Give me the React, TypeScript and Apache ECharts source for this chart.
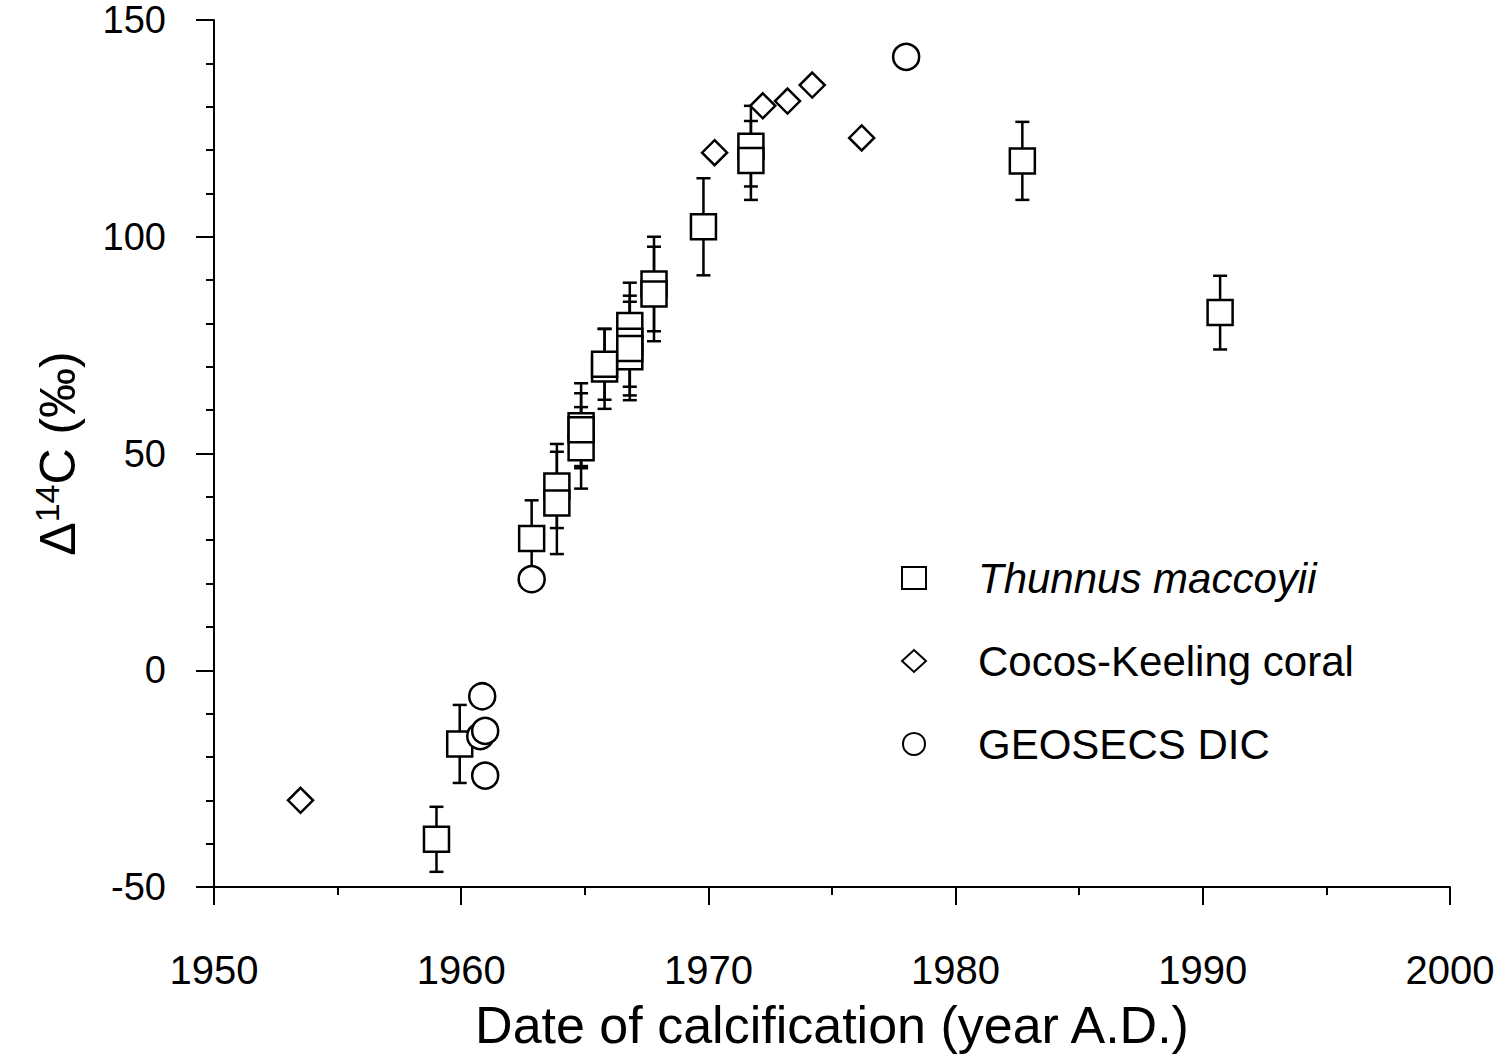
import React, { useEffect, useRef } from "react";
import * as echarts from "echarts";

// Thunnus maccoyii otolith cores: year, mean Δ14C, ± error (drawing order matters for overlaps)
const thunnusYear = [
  1959.0, 1959.94, 1962.85, 1963.87, 1963.87, 1964.85, 1964.85, 1964.85,
  1965.8, 1965.8, 1966.82, 1966.82, 1966.82, 1966.82, 1967.8, 1967.8,
  1969.8, 1971.72, 1971.72, 1982.7, 1990.7,
];
const thunnusValue = [
  -39, -17, 30.4, 42.5, 38.6, 51.3, 56.4, 55.5,
  69.5, 70.6, 79.5, 72.3, 75.9, 74.2, 89.1, 86.8,
  102.3, 120.9, 117.6, 117.5, 82.5,
];
const thunnusErr = [
  7.5, 9, 8.8, 9.7, 11.8, 9.4, 9.8, 8.4,
  9.2, 8.2, 9.9, 10, 10.5, 10.8, 10.9, 10.9,
  11.2, 9.3, 9.1, 9, 8.5,
];

// Cocos-Keeling coral
const coralYear = [1953.5, 1970.25, 1972.2, 1973.2, 1974.2, 1976.2];
const coralValue = [-30, 119.4, 130.2, 131.3, 135.0, 122.8];

// GEOSECS DIC
const geosecsYear = [1960.85, 1960.77, 1960.97, 1960.97, 1962.85, 1978.0];
const geosecsValue = [-6, -15.2, -14, -24.3, 21, 141.5];

const seriesNames = ["Thunnus maccoyii", "Cocos-Keeling coral", "GEOSECS DIC"];

const FONT = "'Liberation Sans', Arial, Helvetica, sans-serif";

export default function App() {
  const ref = useRef<HTMLDivElement>(null);

  useEffect(() => {
    if (!ref.current) return;
    const chart = echarts.init(ref.current, null, { renderer: "svg" });

    const thunnusData = thunnusYear.map((x, i) => [x, thunnusValue[i]]);
    const errData = thunnusYear.map((x, i) => [
      x,
      thunnusValue[i] - thunnusErr[i],
      thunnusValue[i] + thunnusErr[i],
    ]);
    const coralData = coralYear.map((x, i) => [x, coralValue[i]]);
    const geosecsData = geosecsYear.map((x, i) => [x, geosecsValue[i]]);

    const symStyle = { color: "#fff", borderColor: "#000", borderWidth: 2.5, opacity: 1 };

    chart.setOption({
      animation: false,
      backgroundColor: "#fff",
      grid: { left: 214, right: 49, top: 20, bottom: 171 },
      xAxis: {
        type: "value",
        min: 1950,
        max: 2000,
        interval: 10,
        axisLine: { onZero: false, lineStyle: { color: "#000", width: 2 } },
        axisTick: { length: 18, lineStyle: { color: "#000", width: 2 } },
        minorTick: { show: true, splitNumber: 2, length: 8, lineStyle: { color: "#000", width: 2 } },
        splitLine: { show: false },
        axisLabel: {
          color: "#000",
          fontSize: 40,
          fontFamily: FONT,
          margin: 63,
          formatter: (v: number) => String(v),
        },
        name: "Date of calcification (year A.D.)",
        nameLocation: "middle",
        nameGap: 112,
        nameTextStyle: { color: "#000", fontSize: 52, fontFamily: FONT },
      },
      yAxis: {
        type: "value",
        min: -50,
        max: 150,
        interval: 50,
        axisLine: { onZero: false, lineStyle: { color: "#000", width: 2 } },
        axisTick: { length: 18, lineStyle: { color: "#000", width: 2 } },
        minorTick: { show: true, splitNumber: 5, length: 8, lineStyle: { color: "#000", width: 2 } },
        splitLine: { show: false },
        axisLabel: { color: "#000", fontSize: 38, fontFamily: FONT, margin: 48 },
        name: "{d|Δ}{s|14}{d|C (‰)}",
        nameLocation: "middle",
        nameRotate: 90,
        nameGap: 128,
        nameTextStyle: {
          color: "#000",
          fontFamily: FONT,
          rich: {
            d: { fontSize: 50, fontFamily: FONT, color: "#000", lineHeight: 56 },
            s: { fontSize: 34, fontFamily: FONT, color: "#000", lineHeight: 28, verticalAlign: "top" },
          },
        },
      },
      legend: {
        data: seriesNames,
        orient: "vertical",
        left: 896,
        top: 552,
        itemGap: 41,
        itemWidth: 24,
        itemHeight: 22,
        selectedMode: false,
        itemStyle: { color: "#fff", borderColor: "#000", borderWidth: 2 },
        formatter: (n: string) => (n === "Thunnus maccoyii" ? `{i|${n}}` : `{n|${n}}`),
        textStyle: {
          color: "#000",
          fontFamily: FONT,
          fontSize: 42,
          rich: {
            i: { fontStyle: "italic", fontSize: 42, fontFamily: FONT, color: "#000", lineHeight: 46, padding: [0, 0, 0, 47] },
            n: { fontSize: 42, fontFamily: FONT, color: "#000", lineHeight: 46, padding: [0, 0, 0, 47] },
          },
        },
      },
      series: [
        {
          type: "custom",
          name: "error",
          z: 2,
          silent: true,
          encode: { x: 0, y: [1, 2] },
          data: errData,
          renderItem: (_params: any, api: any) => {
            const x = api.value(0);
            const lo = api.value(1);
            const hi = api.value(2);
            const pt = api.coord([x, hi]);
            const pb = api.coord([x, lo]);
            const hw = 7;
            const style = { stroke: "#000", lineWidth: 2.5, fill: null };
            return {
              type: "group",
              children: [
                { type: "line", shape: { x1: pt[0], y1: pt[1], x2: pb[0], y2: pb[1] }, style },
                { type: "line", shape: { x1: pt[0] - hw, y1: pt[1], x2: pt[0] + hw, y2: pt[1] }, style },
                { type: "line", shape: { x1: pb[0] - hw, y1: pb[1], x2: pb[0] + hw, y2: pb[1] }, style },
              ],
            };
          },
        },
        {
          type: "scatter",
          name: seriesNames[0],
          symbol: "rect",
          symbolSize: 25,
          z: 3,
          data: thunnusData,
          itemStyle: symStyle,
          emphasis: { disabled: true },
        },
        {
          type: "scatter",
          name: seriesNames[1],
          symbol: "diamond",
          symbolSize: 25,
          z: 4,
          data: coralData,
          itemStyle: symStyle,
          emphasis: { disabled: true },
        },
        {
          type: "scatter",
          name: seriesNames[2],
          symbol: "circle",
          symbolSize: 26,
          z: 5,
          data: geosecsData,
          itemStyle: symStyle,
          emphasis: { disabled: true },
        },
      ],
    });

    return () => chart.dispose();
  }, []);

  return (
    <div
      ref={ref}
      style={{ position: "absolute", left: 0, top: 0, width: 1499, height: 1058 }}
    />
  );
}
